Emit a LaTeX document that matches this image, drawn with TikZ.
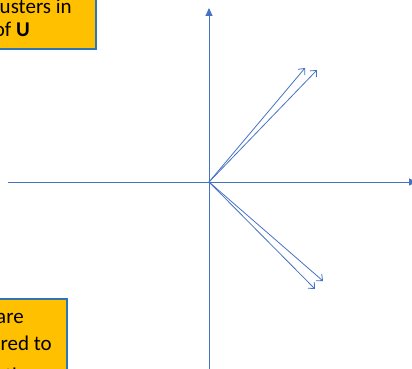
\documentclass[tikz,border=0pt]{standalone}
\usepackage{fontspec}
\setmainfont{Carlito}
\usetikzlibrary{arrows.meta}
\definecolor{axisblue}{HTML}{4472C4}
\definecolor{boxfill}{HTML}{FFC000}
\definecolor{boxline}{HTML}{2E75B6}
\begin{document}
\begin{tikzpicture}[x=1pt,y=-1pt,
  axis/.style={draw=axisblue, line width=0.9pt, -{Triangle[length=8pt,width=7pt]}},
  vec/.style={draw=axisblue, line width=0.8pt, -{Straight Barb[length=5pt,width=9pt]}},
  note/.style={draw=boxline, line width=2.2pt, fill=boxfill, rectangle, inner sep=0pt},
  notetext/.style={font=\fontsize{21}{25}\selectfont, inner sep=0pt, text=black}]
\useasboundingbox (0,0) rectangle (412,369);

% axes
\coordinate (O) at (209,182);
\coordinate (ytop) at (209,8);
\coordinate (ybot) at (209,375);
\coordinate (xl) at (8,182);
\coordinate (xr) at (417,182);
\draw[axis] (ybot) -- (ytop);
\draw[axis] (xl) -- (xr);

% vectors
\coordinate (a1) at (305,68);
\coordinate (a2) at (317,70);
\coordinate (b1) at (323,281);
\coordinate (b2) at (315,289);
\draw[vec] (O) -- (a1);
\draw[vec] (O) -- (a2);
\draw[vec] (O) -- (b1);
\draw[vec] (O) -- (b2);

% upper note
\node[note, minimum width=160pt, minimum height=90pt, anchor=south east] (topnote) at (97,50) {};
\node[notetext, anchor=base east] (t1) at (72,14) {Clusters in};
\node[notetext, anchor=base east] (t2) at (30,37) {rows of \textbf{U}};

% lower note
\node[note, minimum width=140pt, minimum height=120pt, anchor=north east] (botnote) at (68,298) {};
\node[notetext, anchor=base east] (l1) at (24,323) {that are};
\node[notetext, anchor=base east] (l2) at (52,350) {ordered to};
\node[notetext, anchor=base west] (l3) at (5,382) {those};
\end{tikzpicture}
\end{document}
